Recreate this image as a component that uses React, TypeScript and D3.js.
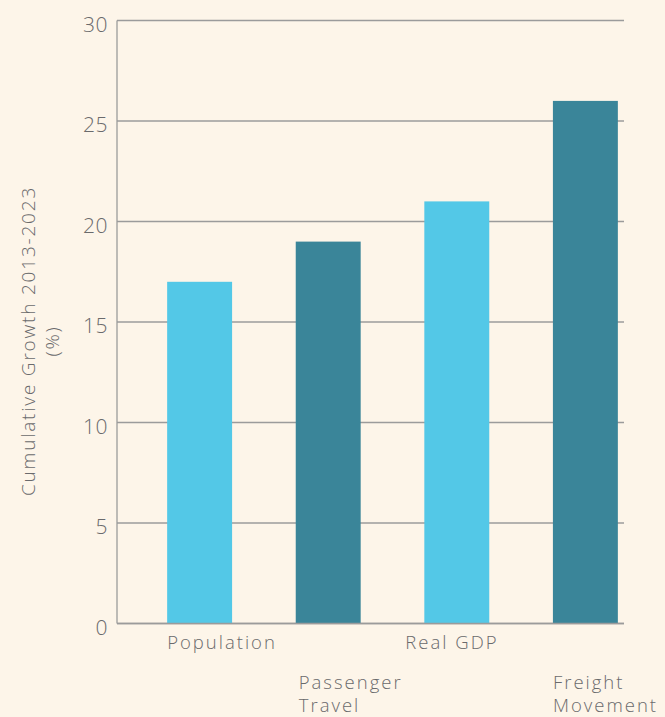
import * as d3 from "d3";

const categories = ["Population", "Passenger Travel", "Real GDP", "Freight Movement"];
const values = [17, 19, 21, 26];
const yTicks = [0, 5, 10, 15, 20, 25, 30];
// label lines and which row each category label sits on
const labelLines = [["Population"], ["Passenger", "Travel"], ["Real GDP"], ["Freight", "Movement"]];
const labelRows = [0, 1, 0, 1];

const W = 665;
const H = 717;
const BG = "#fdf5e9";
const colors = ["#53c8e7", "#3a8599"];
const textColor = "#6a6a6c";
const gridColor = "#9b9b9b";
const font = "'Open Sans', sans-serif";

export default function App() {
  const axisX = 117;
  const gridEnd = 624;
  const yScale = d3.scaleLinear().domain([0, 30]).range([623.5, 20.5]);
  const xScale = d3
    .scaleBand()
    .domain(categories)
    .range([axisX, 668])
    .paddingInner(0.495)
    .paddingOuter(0.39);

  // horizontal nudges so labels sit like the original
  const labelDx = [0, 3, -19, 0];

  return (
    <svg
      width={W}
      height={H}
      viewBox={`0 0 ${W} ${H}`}
      style={{ position: "absolute", left: 0, top: 0, display: "block", background: BG }}
    >
      <rect x={0} y={0} width={W} height={H} fill={BG} />

      {/* gridlines */}
      {yTicks.map((t) => (
        <line
          key={`g-${t}`}
          x1={axisX}
          x2={gridEnd}
          y1={yScale(t)}
          y2={yScale(t)}
          stroke={gridColor}
          strokeWidth={1.3}
        />
      ))}

      {/* bars */}
      {categories.map((c, i) => (
        <rect
          key={c}
          x={xScale(c)}
          y={yScale(values[i])}
          width={xScale.bandwidth()}
          height={yScale(0) - yScale(values[i])}
          fill={colors[i % 2]}
        />
      ))}

      {/* axis line */}
      <line x1={axisX} x2={axisX} y1={yScale(30)} y2={yScale(0)} stroke={gridColor} strokeWidth={1.3} />
      <line x1={axisX} x2={gridEnd} y1={yScale(0)} y2={yScale(0)} stroke={gridColor} strokeWidth={1.3} />

      {/* y tick labels */}
      {yTicks.map((t) => (
        <text
          key={`t-${t}`}
          x={108}
          y={yScale(t) + 3}
          textAnchor="end"
          dominantBaseline="central"
          fontSize={21}
          fontFamily={font}
          fontWeight={300}
          letterSpacing={0.5}
          fill={textColor}
        >
          {t}
        </text>
      ))}

      {/* category labels */}
      {categories.map((c, i) => {
        const x = (xScale(c) || 0) + labelDx[i];
        const yStart = labelRows[i] === 0 ? 641 : 681;
        return (
          <text
            key={`l-${c}`}
            x={x}
            fontSize={18.5}
            fontFamily={font}
            fontWeight={300}
            letterSpacing={2}
            fill={textColor}
            dominantBaseline="central"
          >
            {labelLines[i].map((ln, j) => (
              <tspan key={ln} x={x} y={yStart + j * 23}>
                {ln}
              </tspan>
            ))}
          </text>
        );
      })}

      {/* y axis title */}
      <g transform={`translate(28, 341) rotate(-90)`}>
        <text
          textAnchor="middle"
          dominantBaseline="central"
          fontSize={19}
          fontFamily={font}
          fontWeight={300}
          letterSpacing={1.8}
          fill={textColor}
        >
          <tspan x={0} y={0}>Cumulative Growth 2013-2023</tspan>
          <tspan x={0} y={24}>(%)</tspan>
        </text>
      </g>
    </svg>
  );
}
